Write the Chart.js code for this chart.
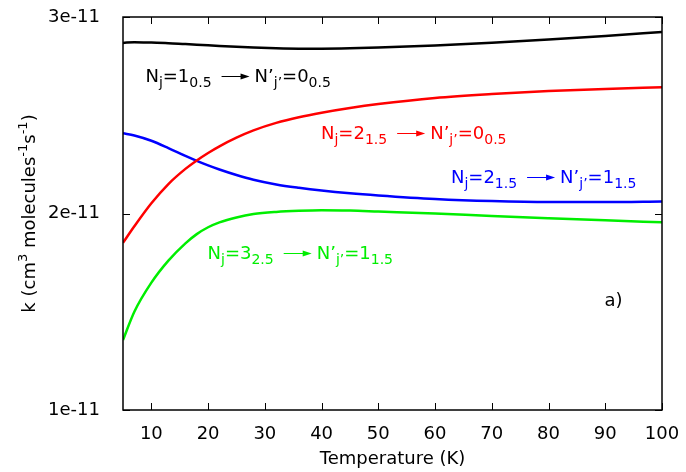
<!DOCTYPE html>
<html>
<head>
<meta charset="utf-8">
<script src="https://cdn.jsdelivr.net/npm/chart.js"></script>
<style>
  html, body { margin: 0; padding: 0; background: #fff; }
  #wrap { width: 686px; height: 472px; }
</style>
</head>
<body>
<div id="wrap"><canvas id="rateChart"></canvas></div>
<script>
// temperatures (K) and rate constants in units of 1e-11 cm3 molecule-1 s-1
const temps = [5, 7, 10, 13, 16, 18, 20, 22, 25, 28, 32, 36, 40, 45, 50, 60, 70, 80, 90, 100];
const k10_05 = [2.868, 2.872, 2.870, 2.867, 2.862, 2.859, 2.856, 2.853, 2.849, 2.845, 2.841, 2.839, 2.839, 2.841, 2.845, 2.855, 2.869, 2.885, 2.903, 2.924];
const k21_00 = [1.851, 1.935, 2.052, 2.150, 2.227, 2.270, 2.308, 2.342, 2.386, 2.423, 2.461, 2.490, 2.513, 2.537, 2.557, 2.588, 2.608, 2.623, 2.634, 2.643];
const k21_11 = [2.408, 2.397, 2.370, 2.333, 2.293, 2.268, 2.245, 2.224, 2.196, 2.172, 2.148, 2.131, 2.117, 2.103, 2.092, 2.074, 2.063, 2.058, 2.058, 2.061];
const k32_11 = [1.356, 1.500, 1.648, 1.760, 1.848, 1.895, 1.930, 1.955, 1.980, 1.997, 2.008, 2.014, 2.017, 2.015, 2.010, 2.000, 1.987, 1.976, 1.966, 1.955];
const xTicks = [10, 20, 30, 40, 50, 60, 70, 80, 90, 100];
const yTicks = [1, 2, 3];

const FONT = '"DejaVu Sans", Verdana, sans-serif';

function pts(ys) {
  return temps.map((t, i) => ({ x: t, y: ys[i] }));
}

// rich text: parts are [text, kind] with kind '' | 'sub' | 'sup' | 'arrow' | 'gap'
function fontFor(kind) {
  return (kind === 'sub' ? '14px ' : kind === 'sup' ? '13px ' : '18px ') + FONT;
}

function drawRich(ctx, x, y, parts, color) {
  ctx.save();
  ctx.fillStyle = color;
  ctx.strokeStyle = color;
  ctx.textAlign = 'left';
  ctx.textBaseline = 'alphabetic';
  let cx = x;
  for (const [txt, kind] of parts) {
    if (kind === 'gap') { cx += txt; continue; }
    if (kind === 'arrow') {
      const len = 28, ay = Math.round(y - 6) + 0.5;
      ctx.lineWidth = 1;
      ctx.beginPath();
      ctx.moveTo(cx, ay);
      ctx.lineTo(cx + len - 6, ay);
      ctx.stroke();
      ctx.beginPath();
      ctx.moveTo(cx + len, ay);
      ctx.lineTo(cx + len - 9, ay - 3);
      ctx.lineTo(cx + len - 9, ay + 3);
      ctx.closePath();
      ctx.fill();
      cx += len;
      continue;
    }
    const dy = kind === 'sub' ? 5 : kind === 'sup' ? -8 : 0;
    ctx.font = fontFor(kind);
    ctx.fillText(txt, cx, y + dy);
    cx += ctx.measureText(txt).width;
  }
  ctx.restore();
}

function richWidth(ctx, parts) {
  let w = 0;
  for (const [txt, kind] of parts) {
    if (kind === 'gap') { w += txt; continue; }
    if (kind === 'arrow') { w += 28; continue; }
    ctx.font = fontFor(kind);
    w += ctx.measureText(txt).width;
  }
  return w;
}

function transition(a, aSub, b, bSub) {
  return [['N', ''], ['j', 'sub'], ['=' + a, ''], [aSub, 'sub'], [10, 'gap'], ['', 'arrow'], [5, 'gap'],
          ['N\u2019', ''], ['j\u2019', 'sub'], ['=' + b, ''], [bSub, 'sub']];
}

// labels anchored at data coordinates (T, k)
const notes = [
  { x: 8.95, y: 2.669, color: '#000000', parts: transition('1', '0.5', '0', '0.5') },
  { x: 39.9, y: 2.379, color: '#ff0000', parts: transition('2', '1.5', '0', '0.5') },
  { x: 62.8, y: 2.155, color: '#0000ff', parts: transition('2', '1.5', '1', '1.5') },
  { x: 19.9, y: 1.768, color: '#00ee00', parts: transition('3', '2.5', '1', '1.5') },
  { x: 89.85, y: 1.529, color: '#000000', parts: [['a)', '']] }
];

const framePlugin = {
  id: 'frame',
  afterDraw(chart) {
    const { ctx, chartArea: a, scales: { x, y } } = chart;
    ctx.save();
    ctx.strokeStyle = '#000';
    ctx.lineWidth = 1.5;
    ctx.strokeRect(a.left, a.top, a.right - a.left, a.bottom - a.top);
    ctx.lineWidth = 1;
    ctx.beginPath();
    const tl = 7;
    xTicks.forEach(v => {
      const px = Math.round(x.getPixelForValue(v)) + 0.5;
      ctx.moveTo(px, a.bottom); ctx.lineTo(px, a.bottom - tl);
      ctx.moveTo(px, a.top); ctx.lineTo(px, a.top + tl);
    });
    yTicks.forEach(v => {
      const py = Math.round(y.getPixelForValue(v)) + 0.5;
      ctx.moveTo(a.left, py); ctx.lineTo(a.left + tl, py);
      ctx.moveTo(a.right, py); ctx.lineTo(a.right - tl, py);
    });
    ctx.stroke();
    ctx.restore();

    notes.forEach(n => drawRich(ctx, x.getPixelForValue(n.x), y.getPixelForValue(n.y), n.parts, n.color));

    // y axis title with superscripts
    const yTitle = [['k (cm', ''], ['3', 'sup'], [' molecules', ''], ['-1', 'sup'], ['s', ''], ['-1', 'sup'], [')', '']];
    ctx.save();
    ctx.translate(35, (a.top + a.bottom) / 2);
    ctx.rotate(-Math.PI / 2);
    const w = richWidth(ctx, yTitle);
    drawRich(ctx, -w / 2, 0, yTitle, '#000');
    ctx.restore();
  }
};

const lineStyle = { borderWidth: 2.5, pointRadius: 0, tension: 0.4, cubicInterpolationMode: 'monotone', fill: false };

new Chart(document.getElementById('rateChart').getContext('2d'), {
  type: 'line',
  data: {
    datasets: [
      { label: 'Nj=1(0.5) -> N\'j\'=0(0.5)', data: pts(k10_05), borderColor: '#000000', ...lineStyle },
      { label: 'Nj=2(1.5) -> N\'j\'=0(0.5)', data: pts(k21_00), borderColor: '#ff0000', ...lineStyle },
      { label: 'Nj=2(1.5) -> N\'j\'=1(1.5)', data: pts(k21_11), borderColor: '#0000ff', ...lineStyle },
      { label: 'Nj=3(2.5) -> N\'j\'=1(1.5)', data: pts(k32_11), borderColor: '#00ee00', ...lineStyle }
    ]
  },
  options: {
    responsive: true,
    maintainAspectRatio: false,
    animation: false,
    layout: { padding: { top: 17, right: 24, left: 0, bottom: 0 } },
    plugins: { legend: { display: false }, tooltip: { enabled: false } },
    scales: {
      x: {
        type: 'linear', min: 5, max: 100,
        grid: { display: false }, border: { display: false },
        afterBuildTicks: s => { s.ticks = xTicks.map(v => ({ value: v })); },
        afterFit: s => { s.height = 62; s.paddingLeft = 0; s.paddingRight = 0; },
        ticks: { color: '#000', font: { family: FONT, size: 18 }, padding: 6, maxRotation: 0 },
        title: { display: true, text: 'Temperature (K)', color: '#000', font: { family: FONT, size: 18 }, padding: { top: 0, bottom: 2 } }
      },
      y: {
        type: 'linear', min: 1, max: 3,
        grid: { display: false }, border: { display: false },
        afterBuildTicks: s => { s.ticks = yTicks.map(v => ({ value: v })); },
        afterFit: s => { s.width = 123; s.paddingTop = 0; s.paddingBottom = 0; },
        ticks: { color: '#000', font: { family: FONT, size: 18 }, padding: 15, callback: v => v + 'e-11' }
      }
    }
  },
  plugins: [framePlugin]
});
</script>
</body>
</html>
